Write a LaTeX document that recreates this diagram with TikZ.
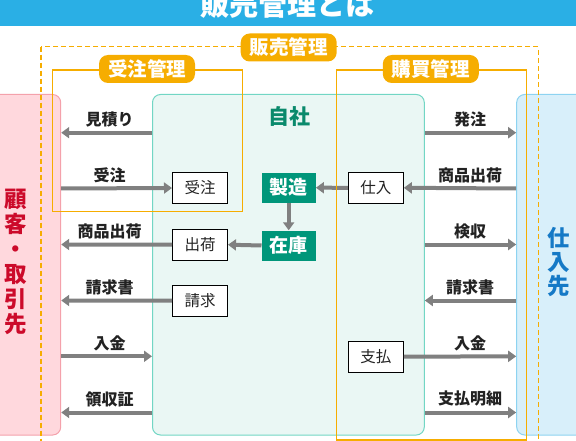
\documentclass[tikz,border=0pt]{standalone}
\usepackage{fontspec}
\setmainfont{Noto Sans CJK JP}
\usetikzlibrary{arrows.meta,calc}
\definecolor{titleblue}{HTML}{2AAFE5}
\definecolor{orng}{HTML}{F6AD00}
\definecolor{pinkfill}{HTML}{FFD8DD}
\definecolor{pinkline}{HTML}{F4A1AB}
\definecolor{tealfill}{HTML}{EAF7F4}
\definecolor{tealline}{HTML}{72D6C4}
\definecolor{bluefill}{HTML}{D8EFFA}
\definecolor{blueline}{HTML}{8DD3F1}
\definecolor{grn}{HTML}{00967A}
\definecolor{grntext}{HTML}{0A8A6C}
\definecolor{redtext}{HTML}{CC0A2A}
\definecolor{bluetext}{HTML}{1579C6}
\definecolor{arrgray}{HTML}{808080}
\definecolor{txt}{HTML}{222222}
\begin{document}
\begin{tikzpicture}[x=1pt,y=-1pt,
  region/.style={rectangle, rounded corners=8pt, line width=1pt, inner sep=0, minimum height=340.5pt},
  arr/.style={draw=arrgray, line width=4pt, -{Triangle[length=8pt,width=11pt]}},
  lbl/.style={font=\bfseries\fontsize{16}{16}\selectfont, text=txt, inner sep=0},
  sbox/.style={draw=black, fill=white, line width=1pt, minimum width=55pt, minimum height=31pt, inner sep=0, text=txt, font=\fontsize{15.5}{15.5}\selectfont},
  gbox/.style={fill=grn, text=white, minimum width=54pt, minimum height=30pt, inner sep=0, font=\bfseries\fontsize{19}{19}\selectfont},
  pill/.style={fill=orng, text=white, rounded corners=9pt, minimum width=96pt, minimum height=28pt, inner sep=0, font=\bfseries\fontsize{19.5}{19.5}\selectfont},
  orect/.style={draw=orng, line width=1.3pt},
  odash/.style={draw=orng, line width=1.5pt, dash pattern=on 5pt off 3pt}
]
\useasboundingbox (0,0) rectangle (576,441);
\clip (0,0) rectangle (576,441);
% title bar
\fill[titleblue] (-5,-5) rectangle (581,26);
\node[anchor=base, text=white, inner sep=0, font=\bfseries\fontsize{29}{29}\selectfont] (title) at (287.5,15.5) {販売管理とは};
% regions
\node[region, fill=pinkfill, draw=pinkline, minimum width=80.7pt] (pink) at (20.35,264.75) {};
\node[region, fill=tealfill, draw=tealline, minimum width=271.8pt] (teal) at (288.4,264.75) {};
\node[region, fill=bluefill, draw=blueline, minimum width=83.3pt] (blue) at (558.35,264.75) {};
% row coordinates
\coordinate (r1) at (0,132.7);
\coordinate (r2) at (0,188.5);
\coordinate (r3) at (0,244.5);
\coordinate (r4) at (0,300.5);
\coordinate (r5) at (0,356.3);
\coordinate (r6) at (0,412.5);
% inner boxes
\node[sbox] (juchu) at (200,188) {受注};
\node[sbox] (shukka) at (200,244.7) {出荷};
\node[sbox] (seikyu) at (200,300.7) {請求};
\node[sbox] (shiire) at (375.8,187.8) {仕入};
\node[sbox] (shiharai) at (375.8,356.7) {支払};
\node[gbox] (seizo) at (288.7,187.7) {製造};
\node[gbox] (zaiko) at (288.7,245.5) {在庫};
% arrows left side
\draw[arr] (teal.west |- r1) -- (pink.east |- r1);
\draw[arr] (pink.east |- r2) -- (juchu.west);
\draw[arr] (shukka.west) -- (pink.east |- r3);
\draw[arr] (seikyu.west) -- (pink.east |- r4);
\draw[arr] (pink.east |- r5) -- (teal.west |- r5);
\draw[arr] (teal.west |- r6) -- (pink.east |- r6);
% inner arrows
\draw[arr] (zaiko.west) -- (shukka.east);
\draw[arr] (seizo.south) -- (zaiko.north);
\draw[arr] (shiire.west) -- (seizo.east);
% arrows right side
\draw[arr] (teal.east |- r1) -- (blue.west |- r1);
\draw[arr] (blue.west |- r2) -- (shiire.east);
\draw[arr] (teal.east |- r3) -- (blue.west |- r3);
\draw[arr] (blue.west |- r4) -- (teal.east |- r4);
\draw[arr] (shiharai.east) -- (blue.west |- r5);
\draw[arr] (teal.east |- r6) -- (blue.west |- r6);
% labels
\node[lbl] (l1) at (109.5,119.3) {見積り};
\node[lbl] (l2) at (109.5,175) {受注};
\node[lbl] (l3) at (109.5,231.7) {商品出荷};
\node[lbl] (l4) at (109.5,287.3) {請求書};
\node[lbl] (l5) at (109.5,343.3) {入金};
\node[lbl] (l6) at (109.5,399.3) {領収証};
\node[lbl] (m1) at (470,119.3) {発注};
\node[lbl] (m2) at (470,175) {商品出荷};
\node[lbl] (m3) at (470,231.7) {検収};
\node[lbl] (m4) at (470,287.3) {請求書};
\node[lbl] (m5) at (470,343.3) {入金};
\node[lbl] (m6) at (470,398.5) {支払明細};
% orange frames
\draw[odash] (41,46.7) rectangle (538.3,470);
\draw[orect] (52.7,70) rectangle (242.3,211.7);
\draw[orect] (336.7,70) rectangle (526.7,440);
\node[pill] (hanbai) at (288.7,47.5) {販売管理};
\node[pill] (juchukanri) at (147,69) {受注管理};
\node[pill] (kobai) at (430.8,69) {購買管理};
% region titles
\node[text=grntext, inner sep=0, font=\bfseries\fontsize{21}{21}\selectfont] (jisha) at (289.3,116.7) {自社};
\node[text=redtext, inner sep=0, align=center, font=\bfseries\fontsize{22.5}{25}\selectfont] (kokyaku) at (16,262) {顧\\客\\・\\取\\引\\先};
\node[text=bluetext, inner sep=0, align=center, font=\bfseries\fontsize{22.5}{24}\selectfont] (shiiresaki) at (558.3,262) {仕\\入\\先};
\end{tikzpicture}
\end{document}
